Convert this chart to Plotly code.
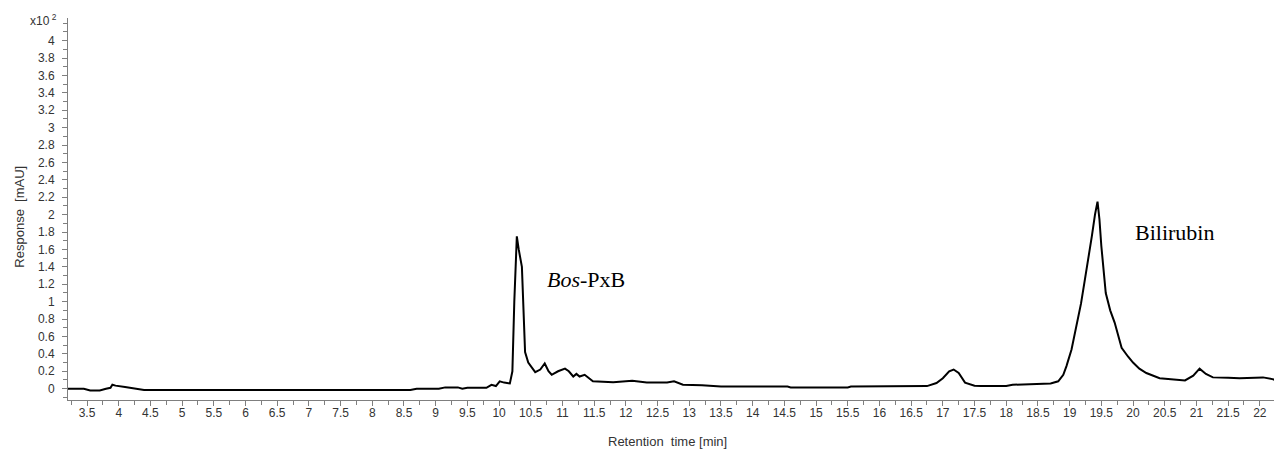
import plotly.graph_objects as go

# Retention time [min]
time_min = [3.2, 3.45, 3.55, 3.7, 3.8, 3.87, 3.9, 3.95, 4.1, 4.3, 4.4, 8.6, 8.7, 9.05, 9.15,
            9.35, 9.42, 9.5, 9.8, 9.88, 9.95, 10.01, 10.08, 10.17, 10.21, 10.24, 10.28, 10.31,
            10.36, 10.41, 10.46, 10.57, 10.65, 10.72, 10.78, 10.83, 10.93, 11.04, 11.1, 11.17,
            11.22, 11.27, 11.35, 11.48, 11.8, 12.1, 12.33, 12.65, 12.76, 12.9, 13.2, 13.5, 14.55,
            14.6, 15.5, 15.55, 16.5, 16.75, 16.9, 17.0, 17.1, 17.17, 17.25, 17.35, 17.5, 17.6,
            18.0, 18.1, 18.7, 18.82, 18.9, 18.95, 19.03, 19.11, 19.18, 19.24, 19.3, 19.35, 19.4,
            19.44, 19.47, 19.5, 19.57, 19.64, 19.71, 19.82, 19.92, 20.0, 20.1, 20.21, 20.42,
            20.6, 20.82, 20.95, 21.05, 21.15, 21.26, 21.5, 21.68, 22.05, 22.2, 22.35]

# Response [mAU] x10^2
response = [0.0, 0.0, -0.02, -0.02, 0.0, 0.01, 0.045, 0.035, 0.02, 0.0, -0.015, -0.015, 0.0,
            0.0, 0.015, 0.015, 0.0, 0.01, 0.01, 0.045, 0.03, 0.085, 0.07, 0.06, 0.2, 1.0, 1.75,
            1.6, 1.4, 0.42, 0.3, 0.19, 0.22, 0.29, 0.2, 0.16, 0.2, 0.23, 0.2, 0.14, 0.17, 0.14,
            0.16, 0.085, 0.075, 0.09, 0.07, 0.07, 0.085, 0.045, 0.04, 0.025, 0.025, 0.015, 0.015,
            0.025, 0.025, 0.03, 0.065, 0.12, 0.2, 0.22, 0.18, 0.07, 0.035, 0.03, 0.03, 0.045,
            0.06, 0.085, 0.16, 0.26, 0.45, 0.72, 0.98, 1.25, 1.5, 1.75, 2.0, 2.15, 1.95, 1.64,
            1.1, 0.9, 0.76, 0.47, 0.37, 0.30, 0.23, 0.18, 0.12, 0.105, 0.095, 0.15, 0.23, 0.17,
            0.13, 0.125, 0.12, 0.13, 0.11, 0.07]

x_ticks = [3.5 + 0.5 * i for i in range(38)]
x_labels = [("%g" % v) for v in x_ticks]
y_ticks = [round(0.2 * i, 1) for i in range(21)]
y_labels = [("%g" % v) for v in y_ticks]

peak_labels = ["<i>Bos</i>-PxB", "Bilirubin"]
peak_label_x = [11.37, 20.66]
peak_label_y = [1.25, 1.80]

fig = go.Figure()
fig.add_trace(go.Scatter(x=time_min, y=response, mode="lines",
                         line=dict(color="black", width=2), showlegend=False))

axis_color = "#7f7f7f"
tick_font = dict(family="Liberation Sans, Arial, sans-serif", size=12, color="#333333")

fig.update_xaxes(range=[3.2, 22.35], showgrid=False, zeroline=False, showline=True,
                 linecolor=axis_color, linewidth=1, ticks="outside", ticklen=5,
                 tickcolor=axis_color, tickvals=x_ticks, ticktext=x_labels,
                 tickfont=tick_font, ticklabelstandoff=-3,
                 minor=dict(tick0=3.25, dtick=0.25, ticks="outside", ticklen=4,
                            tickcolor=axis_color, showgrid=False))
fig.update_yaxes(range=[-0.13, 4.26], showgrid=False, zeroline=False, showline=True,
                 linecolor=axis_color, linewidth=1, ticks="outside", ticklen=5,
                 tickcolor=axis_color, tickvals=y_ticks, ticktext=y_labels,
                 tickfont=tick_font, ticklabelstandoff=5,
                 minor=dict(tick0=0, dtick=0.1, ticks="outside", ticklen=4,
                            tickcolor=axis_color, showgrid=False))

for txt, xx, yy in zip(peak_labels, peak_label_x, peak_label_y):
    fig.add_annotation(x=xx, y=yy, xref="x", yref="y", text=txt, showarrow=False,
                       xanchor="center", yanchor="middle",
                       font=dict(family="Liberation Serif, Times New Roman, serif",
                                 size=22, color="black"))

fig.add_annotation(x=0, y=1, xref="paper", yref="paper", xshift=-25, yshift=-2,
                   xanchor="center", yanchor="middle",
                   text="x10<sup> 2</sup>", showarrow=False,
                   font=dict(family="Liberation Sans, Arial, sans-serif", size=12, color="#333333"))
fig.add_annotation(x=0, y=0.48, xref="paper", yref="paper", xshift=-48,
                   xanchor="center", yanchor="middle",
                   text="Response  [mAU]", textangle=-90, showarrow=False,
                   font=dict(family="Liberation Sans, Arial, sans-serif", size=13, color="#333333"))
fig.add_annotation(x=0.494, y=0, xref="paper", yref="paper", yshift=-41,
                   xanchor="center", yanchor="middle",
                   text="Retention  time [min]", showarrow=False,
                   font=dict(family="Liberation Sans, Arial, sans-serif", size=13, color="#333333"))

# page body has an 8px default margin; size the figure so the plot area lands as in the reference
fig.update_layout(width=1274, height=445, margin=dict(l=60, r=0, t=10, b=53),
                  plot_bgcolor="white", paper_bgcolor="white")

fig.write_html("out.html")
